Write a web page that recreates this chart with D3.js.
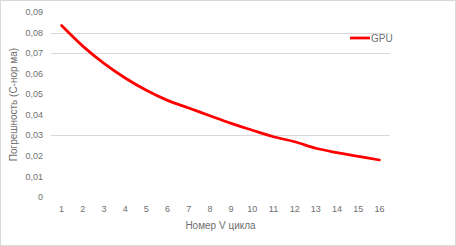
<!DOCTYPE html>
<html lang="ru">
<head>
    <meta charset="UTF-8">
    <title>GPU</title>
    <style>
        body { margin: 0; background: #fff; }
        #chart { font-family: "Liberation Sans Narrow", "Liberation Sans", Arial, sans-serif; }
        .tick-label { fill: #6f6f6f; font-size: 9px; }
        .axis-title { fill: #6f6f6f; font-size: 10px; }
    </style>
    <script src="https://d3js.org/d3.v7.min.js"></script>
</head>
<body>
    <div id="chart"></div>
    <script>
        // Data
        const cycles = ["1", "2", "3", "4", "5", "6", "7", "8", "9", "10", "11", "12", "13", "14", "15", "16"];
        const gpuError = [0.0834, 0.0734, 0.0650, 0.0579, 0.0519, 0.0470, 0.0433, 0.0395, 0.0358,
                          0.0325, 0.0293, 0.0269, 0.0237, 0.0216, 0.0198, 0.0180];
        const yTicks = [0, 0.01, 0.02, 0.03, 0.04, 0.05, 0.06, 0.07, 0.08, 0.09];
        const gridValues = [0.03, 0.07, 0.08]; // only these show in the image
        const seriesName = "GPU";
        const xTitle = "Номер V цикла";
        const yTitle = "Погрешность (С-нор ма)";

        const W = 456, H = 246;
        const margin = { top: 12, right: 66, bottom: 49, left: 51 };
        const width = W - margin.left - margin.right;
        const height = H - margin.top - margin.bottom;

        const root = d3.select("#chart").append("svg")
            .attr("width", W)
            .attr("height", H);

        // chart border
        root.append("rect")
            .attr("x", 0.5).attr("y", 0.5)
            .attr("width", W - 1).attr("height", H - 1)
            .attr("fill", "#fff")
            .attr("stroke", "#d9d9d9");

        const svg = root.append("g")
            .attr("transform", `translate(${margin.left},${margin.top})`);

        const x = d3.scaleBand().domain(cycles).range([0, width]);
        const y = d3.scaleLinear().domain([0, 0.09]).range([height, 0]);

        // gridlines
        svg.selectAll(".grid")
            .data(gridValues)
            .enter().append("line")
            .attr("x1", 0).attr("x2", width)
            .attr("y1", d => Math.round(y(d)) + 0.5)
            .attr("y2", d => Math.round(y(d)) + 0.5)
            .attr("stroke", "#d9d9d9")
            .attr("stroke-width", 1);

        // y tick labels
        const fmt = d => d === 0 ? "0" : d3.format(".2f")(d).replace(".", ",");
        svg.selectAll(".ylab")
            .data(yTicks)
            .enter().append("text")
            .attr("class", "tick-label")
            .attr("x", -8)
            .attr("y", d => y(d))
            .attr("dy", "0.35em")
            .attr("text-anchor", "end")
            .text(fmt);

        // x tick labels
        svg.selectAll(".xlab")
            .data(cycles)
            .enter().append("text")
            .attr("class", "tick-label")
            .attr("x", d => x(d) + x.bandwidth() / 2)
            .attr("y", height + 15)
            .attr("text-anchor", "middle")
            .text(d => d);

        // axis titles
        root.append("text")
            .attr("class", "axis-title")
            .attr("x", margin.left + width / 2)
            .attr("y", H - 17)
            .attr("text-anchor", "middle")
            .text(xTitle);

        root.append("text")
            .attr("class", "axis-title")
            .attr("transform", `translate(17,${margin.top + height / 2}) rotate(-90)`)
            .attr("text-anchor", "middle")
            .text(yTitle);

        // series line
        const line = d3.line()
            .x((d, i) => x(cycles[i]) + x.bandwidth() / 2)
            .y(d => y(d))
            .curve(d3.curveMonotoneX);

        svg.append("path")
            .datum(gpuError)
            .attr("d", line)
            .attr("fill", "none")
            .attr("stroke", "#ff0000")
            .attr("stroke-width", 2.75)
            .attr("stroke-linecap", "round");

        // legend
        const legend = root.append("g")
            .attr("transform", `translate(350,38)`);
        legend.append("line")
            .attr("x1", 0).attr("x2", 20)
            .attr("stroke", "#ff0000")
            .attr("stroke-width", 2.75);
        legend.append("text")
            .attr("class", "axis-title")
            .attr("x", 21)
            .attr("dy", "0.35em")
            .text(seriesName);
    </script>
</body>
</html>
